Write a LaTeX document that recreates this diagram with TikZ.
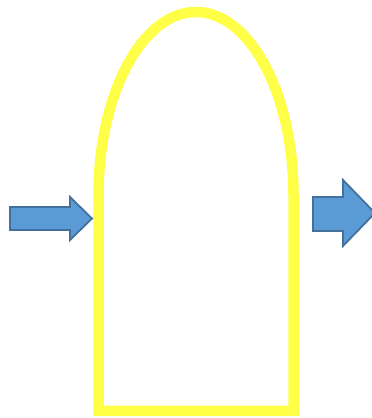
\documentclass[tikz,border=0pt]{standalone}
\usepackage{tikz}

\definecolor{archyellow}{HTML}{FFFF47}
\definecolor{arrowfill}{HTML}{5B9BD5}
\definecolor{arrowline}{HTML}{41719C}

\tikzset{
    arch/.style={draw=archyellow, line width=10.5pt, line join=miter},
    blockarrow/.style={fill=arrowfill, draw=arrowline, line width=1.8pt, line join=miter}
}

\begin{document}
\begin{tikzpicture}[x=1pt, y=1pt]
        \useasboundingbox (0,0) rectangle (372,418);

        % Arch
        \draw[arch] (98.5,223) -- (98.5,7) -- (293.5,7) -- (293.5,223)
            arc[start angle=0, end angle=180, x radius=97.5, y radius=183] -- cycle;

        % Arrow in
        \draw[blockarrow] (10,188) -- (70,188) -- (70,178) -- (92,199.5)
            -- (70,221) -- (70,211) -- (10,211) -- cycle;

        % Arrow out
        \draw[blockarrow] (313,187) -- (343,187) -- (343,172) -- (375,205)
            -- (343,238) -- (343,221) -- (313,221) -- cycle;

    \end{tikzpicture}
\end{document}
